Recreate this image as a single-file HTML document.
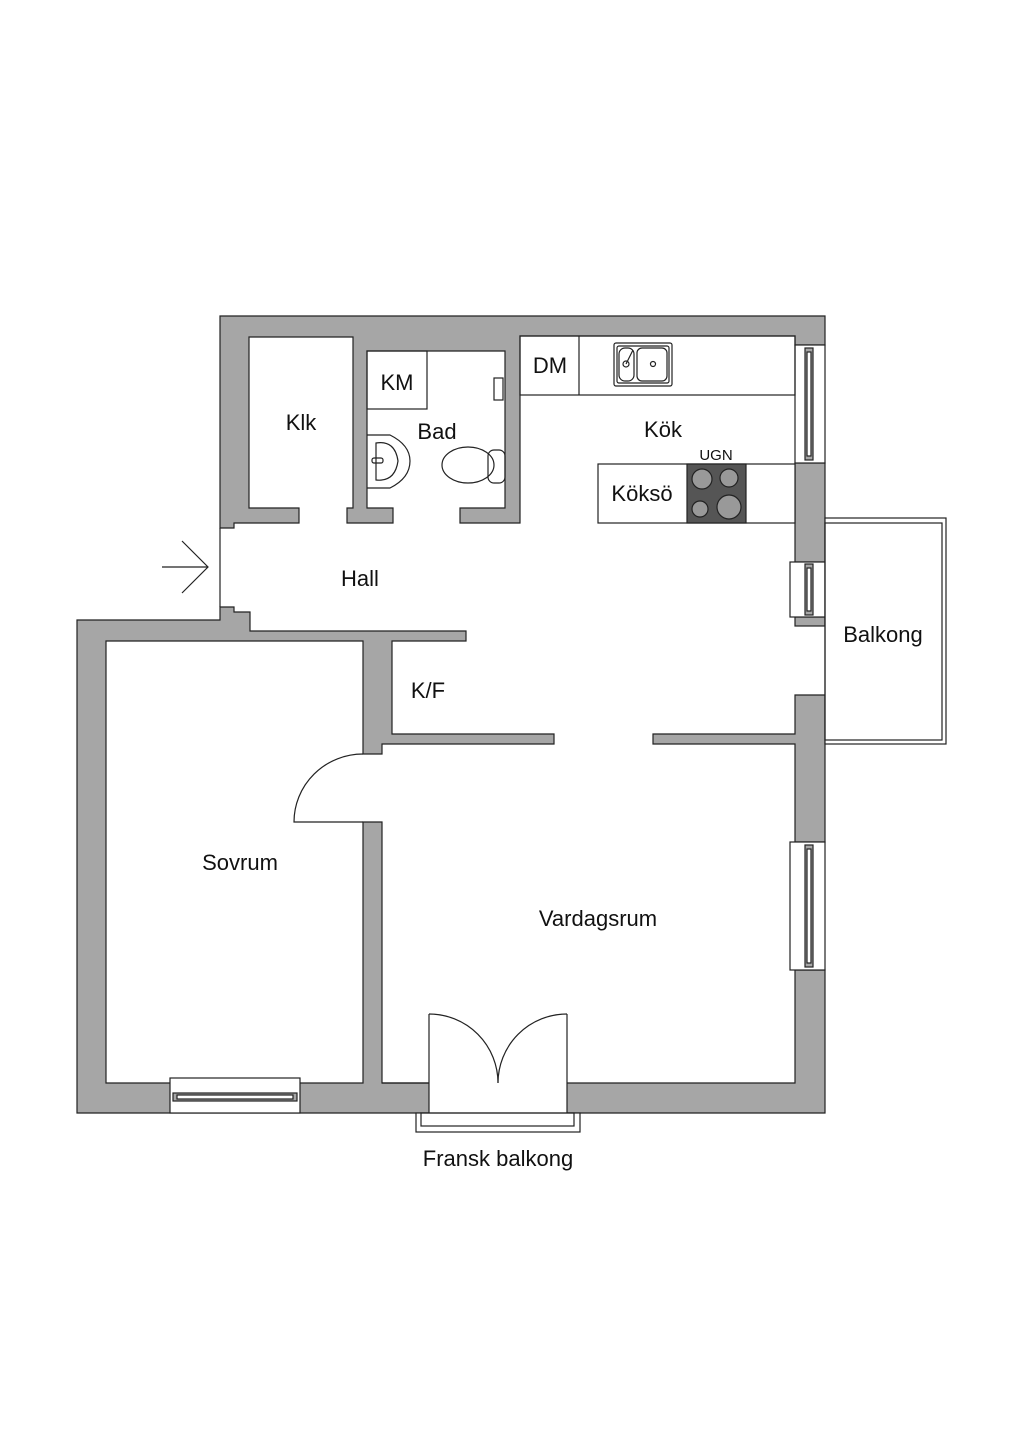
<!DOCTYPE html>
<html><head><meta charset="utf-8"><style>
html,body{margin:0;padding:0;background:#fff}
svg{display:block}
text{font-family:"Liberation Sans",sans-serif;fill:#111}
</style></head><body>
<svg width="1024" height="1448" viewBox="0 0 1024 1448" xmlns="http://www.w3.org/2000/svg">
<g fill="#a6a6a6" stroke="#222" stroke-width="1.2" stroke-linejoin="miter">
<polygon points="220,316 825,316 825,345 795,345 795,336 520,336 520,523 460,523 460,508 505,508 505,351 367,351 367,508 393,508 393,523 347,523 347,508 353,508 353,337 249,337 249,508 299,508 299,523 234,523 234,528 220,528"/>
<polygon points="220,607 234,607 234,612 250,612 250,631 466,631 466,641 392,641 392,734 554,734 554,744 382,744 382,754 363,754 363,641 106,641 106,1083 363,1083 363,822 382,822 382,1083 795,1083 795,970 825,970 825,1113 77,1113 77,620 220,620"/>
<rect x="795" y="463" width="30" height="99"/>
<rect x="795" y="617" width="30" height="9"/>
<polygon points="653,734 795,734 795,695 825,695 825,842 795,842 795,744 653,744"/>
</g>
<g fill="none" stroke="#222" stroke-width="1.2">
<line x1="220" y1="528" x2="220" y2="607"/>
<!-- kitchen window -->
<rect x="795" y="345" width="30" height="118" fill="#fff"/>
<rect x="805" y="348" width="8" height="112" fill="#a6a6a6"/>
<rect x="807" y="352" width="4" height="104" fill="#fff"/>
<!-- balcony door window -->
<rect x="790" y="562" width="35" height="55" fill="#fff"/>
<rect x="805" y="564" width="8" height="51" fill="#a6a6a6"/>
<rect x="807" y="568" width="4" height="43" fill="#fff"/>
<!-- living window -->
<rect x="790" y="842" width="35" height="128" fill="#fff"/>
<rect x="805" y="845" width="8" height="122" fill="#a6a6a6"/>
<rect x="807" y="849" width="4" height="114" fill="#fff"/>
<!-- sovrum window -->
<rect x="170" y="1078" width="130" height="35" fill="#fff"/>
<rect x="173" y="1093" width="124" height="8" fill="#a6a6a6"/>
<rect x="177" y="1095" width="116" height="4" fill="#fff"/>
<!-- balkong -->
<rect x="825" y="518" width="121" height="226" fill="#fff"/>
<rect x="825" y="523" width="117" height="217"/>
<!-- french balcony -->
<rect x="429" y="1082" width="138" height="31" fill="#fff" stroke="none"/>
<line x1="429" y1="1014" x2="429" y2="1113"/>
<line x1="567" y1="1014" x2="567" y2="1113"/>
<line x1="382" y1="1083" x2="429" y2="1083" />
<path d="M429,1014 A69,69 0 0 1 498,1083"/>
<path d="M567,1014 A69,69 0 0 0 498,1083"/>
<rect x="416" y="1113" width="164" height="19" fill="#fff"/>
<rect x="421" y="1113" width="153" height="13"/>
<!-- sovrum door -->
<path d="M363,754 A69,68 0 0 0 294,822 L363,822"/>
<!-- kitchen counters -->
<rect x="520" y="336" width="275" height="59"/>
<line x1="579" y1="336" x2="579" y2="395"/>
<rect x="614" y="343" width="58" height="43" rx="2"/>
<rect x="617" y="346" width="52" height="37" rx="2"/>
<rect x="619" y="348" width="15" height="33" rx="6"/>
<rect x="637" y="348" width="30" height="33" rx="5"/>
<circle cx="626" cy="364" r="3"/>
<circle cx="653" cy="364" r="2.5"/>
<line x1="626" y1="364" x2="633" y2="350"/>
<rect x="598" y="464" width="197" height="59" fill="#fff"/>
<rect x="687" y="464" width="59" height="59" fill="#555"/>
<g fill="#999" stroke="#222">
<circle cx="702" cy="479" r="10"/><circle cx="729" cy="478" r="9"/>
<circle cx="700" cy="509" r="8"/><circle cx="729" cy="507" r="12"/>
</g>
<!-- bad -->
<rect x="367" y="351" width="60" height="58"/>
<path d="M367,435 L390,435 Q410,445 410,461 Q410,478 390,488 L367,488"/>
<path d="M376,443 Q395,440 398,461 Q395,482 376,480 Z"/>
<rect x="372" y="458" width="11" height="5" rx="2"/>
<ellipse cx="468" cy="465" rx="26" ry="18"/>
<rect x="488" y="450" width="17" height="33" rx="6"/>
<rect x="494" y="378" width="9" height="22"/>
<!-- entrance arrow -->
<line x1="162" y1="567" x2="208" y2="567"/>
<polyline points="182,541 208,567 182,593"/>
</g>
<g font-size="22" text-anchor="middle">
<text x="301" y="430">Klk</text>
<text x="437" y="439">Bad</text>
<text x="397" y="390">KM</text>
<text x="550" y="373">DM</text>
<text x="360" y="586">Hall</text>
<text x="663" y="437">Kök</text>
<text x="642" y="501">Köksö</text>
<text x="716" y="460" font-size="15">UGN</text>
<text x="883" y="642">Balkong</text>
<text x="428" y="698">K/F</text>
<text x="240" y="870">Sovrum</text>
<text x="598" y="926">Vardagsrum</text>
<text x="498" y="1166">Fransk balkong</text>
</g>
</svg>
</body></html>
